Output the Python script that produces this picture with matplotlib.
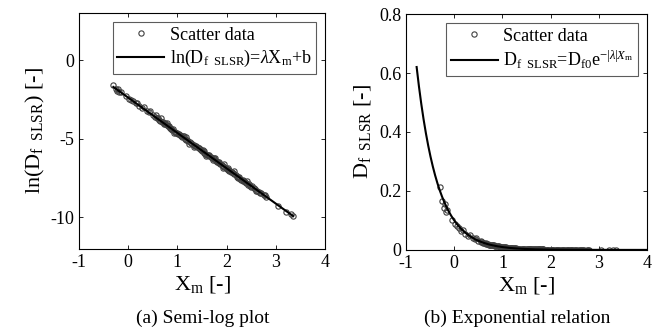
import numpy as np
import matplotlib
matplotlib.use("Agg")
import matplotlib.pyplot as plt

plt.rcParams["font.family"] = ["Liberation Serif", "DejaVu Serif"]
plt.rcParams["mathtext.fontset"] = "custom"
plt.rcParams["mathtext.rm"] = "Liberation Serif"
plt.rcParams["mathtext.it"] = "Liberation Serif:italic"
plt.rcParams["axes.unicode_minus"] = False

# scatter data: X_m and ln(D_f SLSR)
x_m = [-0.30, -0.25, -0.22, -0.20, -0.18, -0.15, -0.05, 0.02, 0.05, 0.10,
       0.15, 0.18, 0.22, 0.28, 0.32, 0.38, 0.42, 0.45, 0.50, 0.55,
       0.58, 0.60, 0.62, 0.65, 0.68, 0.70, 0.72, 0.75, 0.78, 0.80,
       0.82, 0.85, 0.88, 0.90, 0.92, 0.95, 0.97, 1.00, 1.02, 1.05,
       1.07, 1.10, 1.12, 1.15, 1.17, 1.20, 1.22, 1.25, 1.28, 1.30,
       1.33, 1.35, 1.38, 1.40, 1.43, 1.45, 1.48, 1.50, 1.52, 1.55,
       1.57, 1.60, 1.62, 1.65, 1.68, 1.70, 1.72, 1.75, 1.78, 1.80,
       1.82, 1.85, 1.87, 1.90, 1.92, 1.95, 1.98, 2.00, 2.03, 2.05,
       2.08, 2.10, 2.13, 2.15, 2.18, 2.20, 2.23, 2.25, 2.28, 2.30,
       2.33, 2.35, 2.38, 2.40, 2.45, 2.48, 2.50, 2.55, 2.58, 2.62,
       2.65, 2.70, 2.75, 2.78, 2.80, 3.05, 3.20, 3.30, 3.35,
       0.56, 0.66, 0.74, 0.84, 0.94, 1.04, 1.14, 1.24, 1.34, 1.44,
       1.54, 1.64, 1.74, 1.84, 1.94, 2.04, 2.14, 2.24, 2.34, 2.44,
       2.52, 2.60, 2.68, 1.18, 1.58, 1.76, 2.02, 2.42, 0.78, 1.92]
ln_d = [-1.55, -1.80, -1.95, -1.85, -2.05, -2.00, -2.30, -2.45, -2.50, -2.60,
        -2.75, -2.70, -2.90, -3.05, -3.00, -3.20, -3.30, -3.25, -3.50, -3.60,
        -3.65, -3.70, -3.80, -3.85, -3.90, -3.95, -4.05, -4.05, -4.15, -4.20,
        -4.20, -4.30, -4.35, -4.45, -4.40, -4.55, -4.60, -4.65, -4.70, -4.75,
        -4.80, -4.90, -4.85, -5.00, -5.05, -5.10, -5.15, -5.20, -5.25, -5.35,
        -5.40, -5.45, -5.45, -5.55, -5.60, -5.65, -5.70, -5.80, -5.70, -5.90,
        -5.95, -6.00, -6.05, -6.10, -6.15, -6.20, -6.35, -6.30, -6.40, -6.45,
        -6.50, -6.55, -6.60, -6.65, -6.75, -6.80, -6.85, -6.90, -6.95, -7.00,
        -7.10, -7.10, -7.20, -7.25, -7.30, -7.40, -7.40, -7.45, -7.55, -7.60,
        -7.65, -7.70, -7.75, -7.80, -7.90, -8.00, -8.05, -8.15, -8.20, -8.30,
        -8.35, -8.45, -8.55, -8.60, -8.70, -9.25, -9.65, -9.80, -9.90,
        -3.50, -3.70, -4.00, -4.30, -4.60, -4.70, -4.85, -5.30, -5.50, -5.60,
        -5.75, -6.00, -6.25, -6.45, -6.60, -7.05, -7.05, -7.50, -7.60, -7.95,
        -8.00, -8.30, -8.45, -4.90, -6.10, -6.25, -6.85, -7.70, -4.00, -6.85]

# fitted parameters
lam, b = -2.25, -2.375      # ln(D) = lam*X + b
d0, lam_abs = 0.10, 2.34    # D = D0*exp(-|lam|*X)

x_m = np.array(x_m)
ln_d = np.array(ln_d)

fig = plt.figure(figsize=(6.57, 3.35), dpi=100)
ax1 = fig.add_axes([0.120, 0.257, 0.375, 0.704])
ax2 = fig.add_axes([0.618, 0.254, 0.367, 0.704])

mk = dict(marker="o", ls="none", ms=3.8, mfc="none", mec="#404040", mew=0.8)
sub = r"$_\mathrm{f\ \ SLSR}$"

ax1.plot(x_m, ln_d, label="Scatter data", **mk)
xl = np.array([x_m.min(), x_m.max()])
ax1.plot(xl, lam * xl + b, "k-", lw=1.5,
         label="ln(D" + sub + r")=$\lambda$X$_\mathrm{m}$+b")
ax1.set_xlim(-1, 4)
ax1.set_ylim(-12, 3)
ax1.set_xticks([-1, 0, 1, 2, 3, 4])
ax1.set_yticks([-10, -5, 0])
ax1.set_ylabel("ln(D" + sub + ") [-]", fontsize=16, labelpad=2)
ax1.set_xlabel(r"X$_\mathrm{m}$ [-]", fontsize=16, labelpad=2)

ax2.plot(x_m, np.exp(ln_d), label="Scatter data", **mk)
xc = np.linspace(-0.78, 4, 300)
ax2.plot(xc, d0 * np.exp(-lam_abs * xc), "k-", lw=1.5,
         label="D" + sub + r"=D$_\mathrm{f0}$e$^{-|\lambda|X_\mathrm{m}}$")
ax2.set_xlim(-1, 4)
ax2.set_ylim(0, 0.8)
ax2.set_xticks([-1, 0, 1, 2, 3, 4])
ax2.set_yticks([0, 0.2, 0.4, 0.6, 0.8])
ax2.set_yticklabels(["0", "0.2", "0.4", "0.6", "0.8"])
ax2.set_ylabel("D" + sub + " [-]", fontsize=16, labelpad=4)
ax2.set_xlabel(r"X$_\mathrm{m}$ [-]", fontsize=16, labelpad=2)

for ax in (ax1, ax2):
    ax.tick_params(direction="in", top=True, right=True, labelsize=13,
                   length=3, width=0.6)
    for s in ax.spines.values():
        s.set_linewidth(0.8)
    leg = ax.legend(loc="upper right", fontsize=13, frameon=True, fancybox=False,
                    edgecolor="#333333", handlelength=2.6, handletextpad=0.3,
                    borderpad=0.25, labelspacing=0.25, borderaxespad=0.5)
    leg.get_frame().set_linewidth(0.8)

fig.text(0.309, 0.035, "(a) Semi-log plot", ha="center", fontsize=14)
fig.text(0.787, 0.035, "(b) Exponential relation", ha="center", fontsize=14)

fig.savefig("out.png", dpi=100)
